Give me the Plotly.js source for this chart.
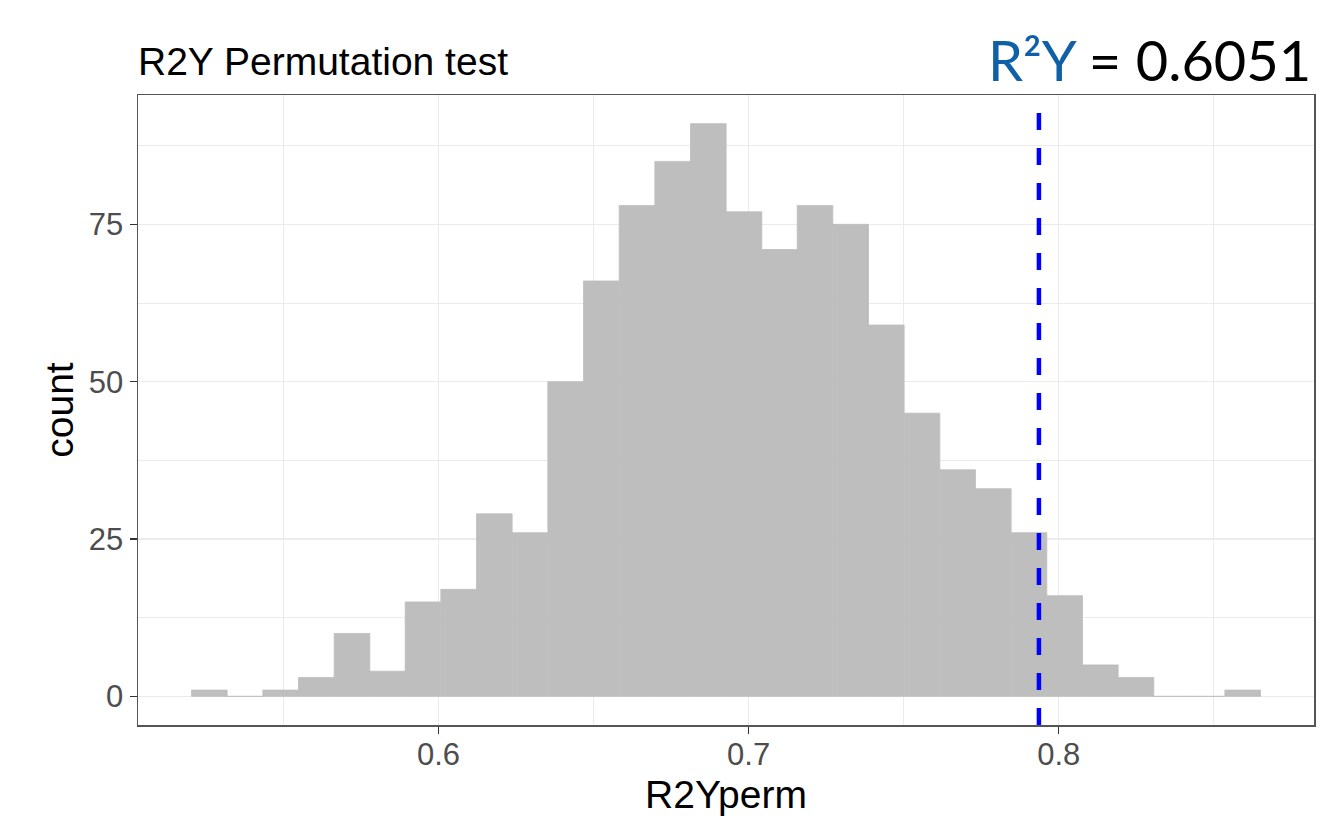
<!DOCTYPE html>
<html>
<head>
<meta charset="utf-8">
<script src="https://cdn.plot.ly/plotly-3.0.1.min.js"></script>
<style>html,body{margin:0;padding:0;background:#fff;}#chart{width:1324px;height:819px;}</style>
</head>
<body>
<div id="chart"></div>
<script>
// Bin centres of the 30-bin histogram (R2Yperm)
const binCenters = [0.5261, 0.5376, 0.5491, 0.5606, 0.5721, 0.5836, 0.5950, 0.6065, 0.6180, 0.6295,
                    0.6410, 0.6525, 0.6640, 0.6755, 0.6870, 0.6985, 0.7100, 0.7214, 0.7329, 0.7444,
                    0.7559, 0.7674, 0.7789, 0.7904, 0.8019, 0.8134, 0.8249, 0.8364, 0.8478, 0.8593];
const binCounts  = [1, 0, 1, 3, 10, 4, 15, 17, 29, 26,
                    50, 66, 78, 85, 91, 77, 71, 78, 75, 59,
                    45, 36, 33, 26, 16, 5, 3, 0, 0, 1];
const binWidth = 0.011491;
const observedLineX = [0.7936];
const xTickVals = [0.6, 0.7, 0.8];
const xTickText = ['0.6', '0.7', '0.8'];
const yTickVals = [0, 25, 50, 75];
const yTickText = ['0', '25', '50', '75'];
const chartTitle = 'R2Y Permutation test';
const xTitle = 'R2Yperm';
const yTitle = 'count';
const statLabel = 'R²Y';
const statValue = '0.6051';

const FONT = 'Liberation Sans, Arial, sans-serif';

const trace = {
  type: 'bar',
  x: binCenters,
  y: binCounts,
  width: binCenters.map(() => binWidth),
  marker: {color: '#bebebe', line: {color: '#bebebe', width: 0.8}},
  hoverinfo: 'x+y',
  showlegend: false
};

const gridColor = '#ebebeb';

const layout = {
  width: 1324,
  height: 819,
  margin: {l: 138, r: 10, t: 95, b: 94, pad: 0},
  paper_bgcolor: '#ffffff',
  plot_bgcolor: '#ffffff',
  bargap: 0,
  font: {family: FONT, color: '#000000'},
  title: {
    text: chartTitle,
    font: {family: FONT, size: 39, color: '#000000'},
    xref: 'paper', x: 0, xanchor: 'left', xshift: 2,
    yref: 'container', y: 1 - 61 / 819, yanchor: 'middle'
  },
  xaxis: {
    range: [0.5031, 0.8823],
    tickmode: 'array',
    tickvals: xTickVals,
    ticktext: xTickText,
    ticks: 'outside', ticklen: 7, tickwidth: 1.4, tickcolor: '#333333',
    tickfont: {family: FONT, size: 31, color: '#4d4d4d'},
    ticklabelstandoff: -6,
    showgrid: true, gridcolor: gridColor, gridwidth: 1.4,
    minor: {dtick: 0.05, tick0: 0.55, showgrid: true, gridcolor: gridColor, gridwidth: 1, ticks: ''},
    zeroline: false,
    showline: true, mirror: true, linecolor: '#555555', linewidth: 1.5,
    title: {text: xTitle, font: {family: FONT, size: 39, color: '#000000'}, standoff: 10},
    fixedrange: true
  },
  yaxis: {
    range: [-4.55, 95.55],
    tickmode: 'array',
    tickvals: yTickVals,
    ticktext: yTickText,
    ticks: 'outside', ticklen: 7, tickwidth: 1.4, tickcolor: '#333333',
    tickfont: {family: FONT, size: 31, color: '#4d4d4d'},
    showgrid: true, gridcolor: gridColor, gridwidth: 1.4,
    minor: {dtick: 12.5, tick0: 12.5, showgrid: true, gridcolor: gridColor, gridwidth: 1, ticks: ''},
    zeroline: false,
    showline: true, mirror: true, linecolor: '#555555', linewidth: 1.5,
    title: {text: yTitle, font: {family: FONT, size: 39, color: '#000000'}, standoff: 3},
    fixedrange: true
  },
  shapes: observedLineX.map(v => ({
    type: 'line', xref: 'x', yref: 'paper',
    x0: v, x1: v, y0: 0, y1: 1,
    line: {color: '#0000ff', width: 4.5, dash: '17px,18px'},
    layer: 'above'
  })),
  annotations: [{
    xref: 'paper', yref: 'paper',
    x: 1, xanchor: 'right', xshift: -1,
    y: (725 - 60) / 630, yanchor: 'middle',
    showarrow: false,
    text: '<span style="color:#1060a8">' + statLabel + '</span> = ' + statValue,
    font: {family: 'Lato, "Open Sans", sans-serif', size: 56, color: '#000000'}
  }]
};

Plotly.newPlot('chart', [trace], layout, {displayModeBar: false, staticPlot: true});
</script>
</body>
</html>
